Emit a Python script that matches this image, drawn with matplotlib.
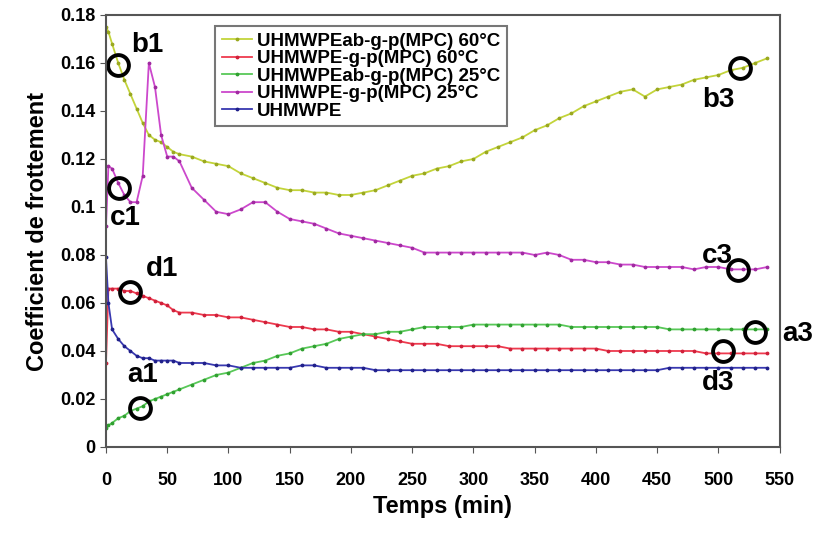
import matplotlib.pyplot as plt

plt.rcParams['font.family'] = ['Liberation Sans Narrow', 'Liberation Sans', 'DejaVu Sans']
plt.rcParams['font.weight'] = 'bold'

temps = [0, 2, 5, 10, 15, 20, 25, 30, 35, 40, 45, 50, 55, 60,
         70, 80, 90, 100, 110, 120, 130, 140, 150, 160, 170, 180, 190, 200,
         210, 220, 230, 240, 250, 260, 270, 280, 290, 300, 310, 320, 330, 340,
         350, 360, 370, 380, 390, 400, 410, 420, 430, 440, 450, 460, 470, 480,
         490, 500, 510, 520, 530, 540]

ab_60 = [0.175, 0.173, 0.168, 0.160, 0.153, 0.147, 0.141, 0.135, 0.130, 0.128, 0.127, 0.125, 0.123, 0.122,
         0.121, 0.119, 0.118, 0.117, 0.114, 0.112, 0.110, 0.108, 0.107, 0.107, 0.106, 0.106, 0.105, 0.105,
         0.106, 0.107, 0.109, 0.111, 0.113, 0.114, 0.116, 0.117, 0.119, 0.120, 0.123, 0.125, 0.127, 0.129,
         0.132, 0.134, 0.137, 0.139, 0.142, 0.144, 0.146, 0.148, 0.149, 0.146, 0.149, 0.150, 0.151, 0.153,
         0.154, 0.155, 0.157, 0.158, 0.160, 0.162]

g_60 = [0.035, 0.066, 0.066, 0.066, 0.065, 0.065, 0.064, 0.063, 0.062, 0.061, 0.060, 0.059, 0.057, 0.056,
        0.056, 0.055, 0.055, 0.054, 0.054, 0.053, 0.052, 0.051, 0.050, 0.050, 0.049, 0.049, 0.048, 0.048,
        0.047, 0.046, 0.045, 0.044, 0.043, 0.043, 0.043, 0.042, 0.042, 0.042, 0.042, 0.042, 0.041, 0.041,
        0.041, 0.041, 0.041, 0.041, 0.041, 0.041, 0.040, 0.040, 0.040, 0.040, 0.040, 0.040, 0.040, 0.040,
        0.039, 0.039, 0.039, 0.039, 0.039, 0.039]

ab_25 = [0.008, 0.009, 0.010, 0.012, 0.013, 0.015, 0.016, 0.017, 0.019, 0.020, 0.021, 0.022, 0.023, 0.024,
         0.026, 0.028, 0.030, 0.031, 0.033, 0.035, 0.036, 0.038, 0.039, 0.041, 0.042, 0.043, 0.045, 0.046,
         0.047, 0.047, 0.048, 0.048, 0.049, 0.050, 0.050, 0.050, 0.050, 0.051, 0.051, 0.051, 0.051, 0.051,
         0.051, 0.051, 0.051, 0.050, 0.050, 0.050, 0.050, 0.050, 0.050, 0.050, 0.050, 0.049, 0.049, 0.049,
         0.049, 0.049, 0.049, 0.049, 0.049, 0.049]

g_25 = [0.092, 0.117, 0.116, 0.110, 0.105, 0.102, 0.102, 0.113, 0.160, 0.150, 0.130, 0.121, 0.121, 0.119,
        0.108, 0.103, 0.098, 0.097, 0.099, 0.102, 0.102, 0.098, 0.095, 0.094, 0.093, 0.091, 0.089, 0.088,
        0.087, 0.086, 0.085, 0.084, 0.083, 0.081, 0.081, 0.081, 0.081, 0.081, 0.081, 0.081, 0.081, 0.081,
        0.080, 0.081, 0.080, 0.078, 0.078, 0.077, 0.077, 0.076, 0.076, 0.075, 0.075, 0.075, 0.075, 0.074,
        0.075, 0.075, 0.074, 0.074, 0.074, 0.075]

uhmwpe = [0.079, 0.060, 0.049, 0.045, 0.042, 0.040, 0.038, 0.037, 0.037, 0.036, 0.036, 0.036, 0.036, 0.035,
          0.035, 0.035, 0.034, 0.034, 0.033, 0.033, 0.033, 0.033, 0.033, 0.034, 0.034, 0.033, 0.033, 0.033,
          0.033, 0.032, 0.032, 0.032, 0.032, 0.032, 0.032, 0.032, 0.032, 0.032, 0.032, 0.032, 0.032, 0.032,
          0.032, 0.032, 0.032, 0.032, 0.032, 0.032, 0.032, 0.032, 0.032, 0.032, 0.032, 0.033, 0.033, 0.033,
          0.033, 0.033, 0.033, 0.033, 0.033, 0.033]

series = [
    ('UHMWPEab-g-p(MPC) 60°C', ab_60, '#c3d43a', '#9aa820'),
    ('UHMWPE-g-p(MPC) 60°C', g_60, '#ee3a4e', '#d0203a'),
    ('UHMWPEab-g-p(MPC) 25°C', ab_25, '#58c858', '#30a030'),
    ('UHMWPE-g-p(MPC) 25°C', g_25, '#cc48cc', '#a02aa0'),
    ('UHMWPE', uhmwpe, '#3838b0', '#20208a'),
]

# annotation points (circle position, label text, label position)
marks = [
    (10, 0.159, 'b1', 34, 0.1675),
    (11, 0.108, 'c1', 16, 0.0955),
    (20, 0.0646, 'd1', 46, 0.074),
    (28, 0.0163, 'a1', 30, 0.030),
    (518, 0.158, 'b3', 500, 0.1446),
    (516, 0.0738, 'c3', 499, 0.0796),
    (530, 0.048, 'a3', 565, 0.047),
    (504, 0.040, 'd3', 500, 0.0267),
]

fig = plt.figure(figsize=(8.19, 5.35), dpi=100)
ax = fig.add_axes([0.1294, 0.1645, 0.8226, 0.8075])

for name, vals, col, mcol in series:
    ax.plot(temps, vals, '-', color=col, lw=1.3, marker='.', ms=3.5,
            mfc=mcol, mec=mcol, label=name)

for cx, cy, txt, tx, ty in marks:
    ax.plot(cx, cy, 'o', ms=15, mfc='none', mec='black', mew=2.8, clip_on=False)
    ax.text(tx, ty, txt, fontsize=20, fontweight='bold', ha='center', va='center')

ax.set_xlim(0, 550)
ax.set_ylim(0, 0.18)
ax.set_xticks(range(0, 551, 50))
ax.set_yticks([0, 0.02, 0.04, 0.06, 0.08, 0.1, 0.12, 0.14, 0.16, 0.18])
ax.set_yticklabels(['0', '0.02', '0.04', '0.06', '0.08', '0.1', '0.12', '0.14', '0.16', '0.18'])
ax.tick_params(labelsize=13, length=4, color='#555555')
ax.tick_params(axis='x', pad=14)
for s in ax.spines.values():
    s.set_color('#555555')
    s.set_linewidth(1.5)

ax.set_xlabel('Temps (min)', fontsize=17, fontweight='bold')
ax.set_ylabel('Coefficient de frottement', fontsize=17, fontweight='bold', labelpad=8)

leg = ax.legend(loc='upper left', bbox_to_anchor=(0.148, 0.996), fontsize=13.5,
                frameon=True, fancybox=False, edgecolor='#555555',
                borderpad=0.35, labelspacing=0.02, handlelength=1.6, handletextpad=0.3)
leg.get_frame().set_linewidth(1.5)
for t in leg.get_texts():
    t.set_fontweight('bold')

fig.savefig('out.png', dpi=100)
